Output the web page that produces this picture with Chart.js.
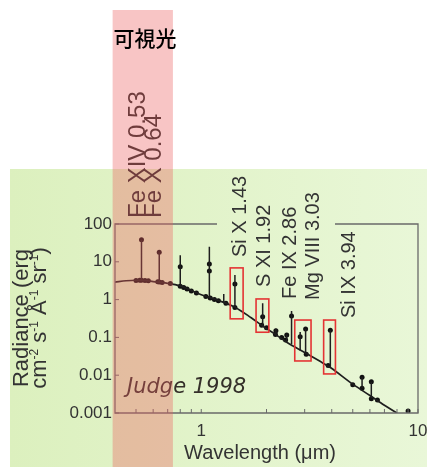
<!DOCTYPE html>
<html>
<head>
<meta charset="utf-8">
<script src="https://cdn.jsdelivr.net/npm/chart.js@4.4.1/dist/chart.umd.min.js"></script>
<style>
  html, body { margin: 0; padding: 0; background: #fff; }
  #wrap { width: 427px; height: 467px; position: relative; }
</style>
</head>
<body>
<div id="wrap"><canvas id="c" width="427" height="467"></canvas></div>
<script>
// Coronal continuum radiance (Judge 1998) with emission-line peaks
const continuumWl  = [0.40, 0.45, 0.50, 0.55, 0.60, 0.70, 0.80, 0.90, 1.00, 1.20, 1.43, 1.70, 1.92, 2.20, 2.50, 3.00, 3.50, 3.94, 5.00, 6.00, 7.00, 8.00];
const continuumRad = [2.9, 3.15, 3.25, 3.2, 3.0, 2.7, 2.3, 1.75, 1.35, 0.95, 0.63, 0.33, 0.2, 0.12, 0.072, 0.04, 0.024, 0.016, 0.0058, 0.0029, 0.0016, 0.001];

// emission lines: wavelength, continuum level, top of line
const lineWl   = [0.53, 0.64, 0.80, 1.09, 1.27, 1.43, 1.92, 2.21, 2.48, 2.61, 2.86, 3.03, 3.94, 5.52, 6.09];
const lineLow  = [3.2, 2.9, 2.25, 1.1, 0.85, 0.62, 0.2, 0.12, 0.08, 0.066, 0.045, 0.036, 0.016, 0.0045, 0.0025];
const lineHigh = [38.6, 18, 15, 25, 1.4, 4.5, 0.8, 0.17, 0.12, 0.5, 0.14, 0.167, 0.155, 0.0088, 0.0067];

// measured points
const dotWl  = [0.50, 0.52, 0.53, 0.55, 0.57, 0.63, 0.64, 0.66, 0.72, 0.80, 0.83, 0.86, 0.90, 0.95, 1.05, 1.10, 1.15, 1.20, 1.30, 1.43, 1.90, 2.00, 2.20, 2.35, 2.45, 3.05, 3.85, 5.00, 5.52, 6.09, 6.50, 9.00,
                0.53, 0.64, 0.80, 1.09, 1.09, 1.43, 1.92, 2.21, 2.48, 2.61, 2.86, 3.03, 3.94, 5.52, 6.09];
const dotRad = [3.2, 3.25, 3.25, 3.2, 3.15, 2.95, 2.9, 2.85, 2.65, 2.25, 2.1, 1.9, 1.7, 1.5, 1.2, 1.1, 1.0, 0.93, 0.8, 0.62, 0.21, 0.18, 0.12, 0.1, 0.085, 0.036, 0.018, 0.0056, 0.0045, 0.0024, 0.0022, 0.00113,
                38.6, 18, 7.4, 8.8, 5.7, 2.6, 0.35, 0.15, 0.116, 0.37, 0.104, 0.167, 0.155, 0.0088, 0.0067];

const lineNames = ['Fe XIV 0.53', 'Fe X 0.64', 'Si X 1.43', 'S XI 1.92', 'Fe IX 2.86', 'Mg VIII 3.03', 'Si IX 3.94'];

// highlighted lines: [wl from, wl to, radiance low, radiance high]
const highlightBoxes = [
  [1.36, 1.56, 0.31, 6.9],
  [1.79, 2.05, 0.137, 1.04],
  [2.70, 3.21, 0.0238, 0.288],
  [3.67, 4.16, 0.0108, 0.288]
];

const visibleBand = [0.39, 0.74];

const yTicks = [0.001, 0.01, 0.1, 1, 10, 100];
const yTickLabels = ['0.001', '0.01', '0.1', '1', '10', '100'];
const xTicks = [1, 10];
const xTickLabels = ['1', '10'];
const xMinorTicks = [0.5, 0.6, 0.7, 0.8, 0.9, 2, 3, 4, 5, 6, 7, 8, 9];

const INK = '#1e1e1e';
const TEXT = '#333';
const SANS = '"Liberation Sans", Arial, sans-serif';

// vertical segments, separated by gaps
const lineSegments = [];
lineWl.forEach((w, i) => {
  lineSegments.push({ x: w, y: lineLow[i] });
  lineSegments.push({ x: w, y: lineHigh[i] });
  lineSegments.push({ x: w, y: null });
});

function rotText(ctx, text, x, y, font, color) {
  ctx.save();
  ctx.translate(x, y);
  ctx.rotate(-Math.PI / 2);
  ctx.font = font;
  ctx.fillStyle = color;
  ctx.textAlign = 'left';
  ctx.textBaseline = 'alphabetic';
  ctx.fillText(text, 0, 0);
  ctx.restore();
}

function drawYTitle(ctx) {
  // two rotated lines, the second with superscript exponents
  const cy = 318;
  const f = '22px ' + SANS, fs = '12px ' + SANS;
  ctx.save();
  ctx.fillStyle = TEXT;
  ctx.textBaseline = 'alphabetic';
  ctx.textAlign = 'left';
  ctx.font = f;
  const l1 = 'Radiance (erg';
  const w1 = ctx.measureText(l1).width;
  ctx.translate(28, cy + w1 / 2);
  ctx.rotate(-Math.PI / 2);
  ctx.fillText(l1, 0, 0);
  ctx.restore();

  const parts = [['cm', 0], ['-2', 1], [' s', 0], ['-1', 1], [' \u00c5', 0], ['-1', 1], [' sr', 0], ['-1', 1], [')', 0]];
  ctx.save();
  ctx.fillStyle = TEXT;
  ctx.textBaseline = 'alphabetic';
  ctx.textAlign = 'left';
  let total = 0;
  parts.forEach(p => { ctx.font = p[1] ? fs : f; total += ctx.measureText(p[0]).width; });
  ctx.translate(46, cy + total / 2);
  ctx.rotate(-Math.PI / 2);
  let x = 0;
  parts.forEach(p => {
    ctx.font = p[1] ? fs : f;
    ctx.fillText(p[0], x, p[1] ? -8 : 0);
    x += ctx.measureText(p[0]).width;
  });
  ctx.restore();
}

const decor = {
  id: 'decor',
  beforeDraw(chart) {
    const ctx = chart.ctx;
    ctx.save();
    ctx.fillStyle = '#fff';
    ctx.fillRect(0, 0, 427, 467);
    const g = ctx.createLinearGradient(10, 0, 427, 0);
    g.addColorStop(0, 'rgb(220,240,190)');
    g.addColorStop(1, 'rgb(233,247,216)');
    ctx.fillStyle = g;
    ctx.fillRect(10, 169, 417, 298);
    ctx.restore();
  },
  afterDraw(chart) {
    const ctx = chart.ctx;
    const xs = chart.scales.x, ys = chart.scales.y;
    const a = chart.chartArea;
    ctx.save();

    // frame, with the top edge interrupted under the line labels
    ctx.strokeStyle = '#6a6a6a';
    ctx.lineWidth = 1.3;
    ctx.beginPath();
    ctx.moveTo(217, a.top); ctx.lineTo(a.left, a.top); ctx.lineTo(a.left, a.bottom);
    ctx.lineTo(a.right, a.bottom); ctx.lineTo(a.right, a.top); ctx.lineTo(335, a.top);
    ctx.stroke();

    // inward tick marks
    ctx.lineWidth = 1;
    ctx.beginPath();
    xMinorTicks.concat(xTicks).forEach(v => {
      const px = xs.getPixelForValue(v);
      ctx.moveTo(px, a.bottom); ctx.lineTo(px, a.bottom - 4);
    });
    yTicks.forEach(v => {
      const py = ys.getPixelForValue(v);
      ctx.moveTo(a.left, py); ctx.lineTo(a.left + 4, py);
    });
    ctx.stroke();

    // highlight boxes
    ctx.strokeStyle = 'rgb(228,52,52)';
    ctx.lineWidth = 1.6;
    highlightBoxes.forEach(b => {
      const x0 = xs.getPixelForValue(b[0]), x1 = xs.getPixelForValue(b[1]);
      const y0 = ys.getPixelForValue(b[3]), y1 = ys.getPixelForValue(b[2]);
      ctx.strokeRect(x0, y0, x1 - x0, y1 - y0);
    });

    // line identifications
    const big = '24px ' + SANS, small = '20px ' + SANS;
    rotText(ctx, lineNames[0], 145, 218, big, '#2a2a2a');
    rotText(ctx, lineNames[1], 161, 218, big, '#2a2a2a');
    rotText(ctx, lineNames[2], 246, 257, small, TEXT);
    rotText(ctx, lineNames[3], 270, 287, small, TEXT);
    rotText(ctx, lineNames[4], 296, 299, small, TEXT);
    rotText(ctx, lineNames[5], 319, 300, small, TEXT);
    rotText(ctx, lineNames[6], 355, 318, small, TEXT);

    // source note
    ctx.font = 'italic 21px "DejaVu Sans", sans-serif';
    ctx.fillStyle = '#35302a';
    ctx.textAlign = 'left';
    ctx.textBaseline = 'alphabetic';
    ctx.fillText('Judge 1998', 127, 393);

    // x axis title
    ctx.fillStyle = TEXT;
    ctx.font = '20px ' + SANS;
    ctx.textAlign = 'center';
    ctx.textBaseline = 'middle';
    ctx.fillText('Wavelength (\u03bcm)', 260, 453);
    ctx.restore();

    drawYTitle(ctx);

    // visible range band laid over the plot
    ctx.save();
    const bx0 = xs.getPixelForValue(visibleBand[0]);
    const bx1 = xs.getPixelForValue(visibleBand[1]);
    ctx.fillStyle = 'rgba(235,95,95,0.36)';
    ctx.fillRect(bx0, 10, bx1 - bx0, 457);

    ctx.fillStyle = '#000';
    ctx.font = '500 21px "Noto Sans CJK JP", sans-serif';
    ctx.textAlign = 'center';
    ctx.textBaseline = 'middle';
    ctx.fillText('可視光', 145, 38);
    ctx.restore();
  }
};

new Chart(document.getElementById('c'), {
  type: 'line',
  data: {
    datasets: [
      {
        label: 'continuum',
        data: continuumWl.map((w, i) => ({ x: w, y: continuumRad[i] })),
        borderColor: INK,
        borderWidth: 1.7,
        pointRadius: 0,
        cubicInterpolationMode: 'monotone',
        fill: false
      },
      {
        label: 'lines',
        data: lineSegments,
        borderColor: INK,
        borderWidth: 1.5,
        pointRadius: 0,
        spanGaps: false,
        fill: false
      },
      {
        label: 'points',
        type: 'scatter',
        data: dotWl.map((w, i) => ({ x: w, y: dotRad[i] })),
        backgroundColor: '#111',
        borderColor: '#111',
        pointRadius: 2.5,
        borderWidth: 0
      }
    ]
  },
  options: {
    responsive: false,
    devicePixelRatio: 1,
    animation: false,
    layout: { padding: { left: 0, top: 224, right: 9, bottom: 0 } },
    plugins: { legend: { display: false }, tooltip: { enabled: false } },
    scales: {
      x: {
        type: 'logarithmic',
        min: 0.4, max: 10,
        grid: { display: false, drawTicks: false },
        border: { display: false },
        afterBuildTicks: s => { s.ticks = xTicks.map(v => ({ value: v })); },
        afterFit: s => { s.height = 54; s.paddingLeft = 0; s.paddingRight = 0; },
        ticks: {
          autoSkip: false, maxRotation: 0, padding: 8,
          color: TEXT, font: { family: SANS, size: 17 },
          callback: v => xTickLabels[xTicks.indexOf(v)]
        }
      },
      y: {
        type: 'logarithmic',
        min: 0.001, max: 100,
        grid: { display: false, drawTicks: false },
        border: { display: false },
        afterBuildTicks: s => { s.ticks = yTicks.map(v => ({ value: v })); },
        afterFit: s => { s.width = 115; s.paddingTop = 0; s.paddingBottom = 0; },
        ticks: {
          autoSkip: false, padding: 3,
          color: TEXT, font: { family: SANS, size: 17 },
          callback: v => yTickLabels[yTicks.indexOf(v)]
        }
      }
    }
  },
  plugins: [decor]
});
</script>
</body>
</html>
